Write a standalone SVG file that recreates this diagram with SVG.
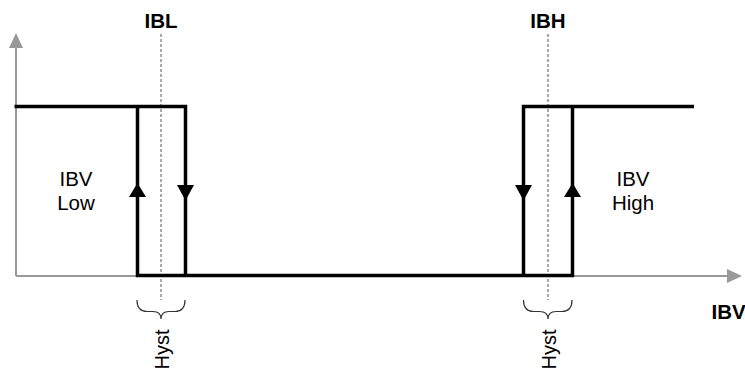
<svg xmlns="http://www.w3.org/2000/svg" width="745" height="371" viewBox="0 0 745 371">
<style>
.axis{stroke:#999;stroke-width:2;fill:none}
.axhead{fill:#999}
.sig{stroke:#000;stroke-width:3.5;fill:none;stroke-linejoin:miter}
.head{fill:#000}
.dot{stroke:#555;stroke-width:1;stroke-dasharray:3,2;fill:none}
.brace{stroke:#333;stroke-width:1.2;fill:none}
.lbl{font-family:"Liberation Sans",Arial,sans-serif;font-size:20.5px;fill:#000}
.b{font-weight:bold}
</style>
<g id="axes">
<path class="axis" d="M16,276 V46 M16,276 H728"/>
<polygon class="axhead" points="16,33 9,48 23,48"/>
<polygon class="axhead" points="742,276 727,269 727,283"/>
</g>
<g id="thresholds">
<path class="dot" d="M161,34 V300 M548,34 V300"/>
<text class="lbl b" x="161" y="27.5" text-anchor="middle">IBL</text>
<text class="lbl b" x="548" y="27.5" text-anchor="middle">IBH</text>
</g>
<g id="connectors">
<path class="sig" d="M14.5,106.5 H185.5 V275.5"/>
<path class="sig" d="M137.5,106.5 V275.5 H572.5 V106.5"/>
<path class="sig" d="M523.5,275.5 V106.5 H694"/>
<polygon class="head" points="137.5,183 129,197 146,197"/>
<polygon class="head" points="185.5,200.5 177,185 194,185"/>
<polygon class="head" points="523.5,200.5 515,185 532,185"/>
<polygon class="head" points="572.5,183 564,197 581,197"/>
</g>
<g id="low-label">
<text class="lbl" x="76" y="185.5" text-anchor="middle">IBV</text>
<text class="lbl" x="76" y="210" text-anchor="middle">Low</text>
</g>
<g id="high-label">
<text class="lbl" x="633" y="185.5" text-anchor="middle">IBV</text>
<text class="lbl" x="633" y="210" text-anchor="middle">High</text>
</g>
<g id="hyst-left">
<path class="brace" d="M137,300 C137,308 140,311.5 147,311.5 L153,311.5 C158,311.5 161,314 161,319 C161,314 164,311.5 169,311.5 L175,311.5 C182,311.5 185,308 185,300"/>
<text class="lbl" style="font-size:20px" transform="translate(169,369.5) rotate(-90)">Hyst</text>
</g>
<g id="hyst-right">
<path class="brace" d="M523.5,300 C523.5,308 526.5,311.5 533.5,311.5 L539.5,311.5 C544.5,311.5 548,314 548,319 C548,314 551,311.5 556,311.5 L562,311.5 C569,311.5 572,308 572,300"/>
<text class="lbl" style="font-size:20px" transform="translate(556,369.5) rotate(-90)">Hyst</text>
</g>
<g id="x-label">
<text class="lbl b" x="711.5" y="319">IBV</text>
</g>
</svg>
